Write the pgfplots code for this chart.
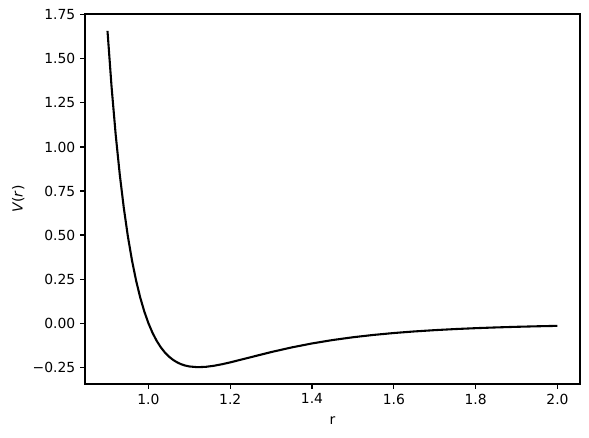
\documentclass[border=0pt]{standalone}
\usepackage{fontspec}
\setmainfont{DejaVu Sans}
\usepackage{pgfplots}
\pgfplotsset{compat=1.18}
\begin{document}
\begin{tikzpicture}
\useasboundingbox (-61.2pt,-38.2pt) rectangle (362.9pt,276.5pt);
\begin{axis}[
  at={(0,0)}, anchor=south west,
  scale only axis,
  width=356.4pt, height=266.4pt,
  xmin=0.845, xmax=2.055,
  ymin=-0.3454, ymax=1.7545,
  xtick={1.0,1.2,1.4,1.6,1.8,2.0},
  xticklabels={1.0,1.2,1.4,1.6,1.8,2.0},
  ytick={-0.25,0,0.25,0.5,0.75,1.0,1.25,1.5,1.75},
  yticklabels={−0.25,0.00,0.25,0.50,0.75,1.00,1.25,1.50,1.75},
  tick align=outside,
  major tick length=3.5pt,
  tick style={black, line width=0.8pt},
  axis line style={line width=0.8pt},
  xtick pos=bottom, ytick pos=left,
  ticklabel style={font=\fontsize{10}{12}\selectfont},
  label style={font=\fontsize{10}{12}\selectfont},
  xlabel={r},
  xlabel style={yshift=-2pt},
  ylabel={\textit{V}(\textit{r})},
  ylabel style={yshift=-1pt},
  clip=false,
]
\addplot[black, line width=1.5pt, line join=round] coordinates {
(0.90,1.65903)(0.91,1.34004)(0.92,1.07066)(0.93,0.84332)(0.94,0.65164)
(0.95,0.49023)(0.96,0.35456)(0.97,0.24073)(0.98,0.14548)(0.99,0.06602)
(1.00,0.0)(1.01,-0.05460)(1.02,-0.09948)(1.03,-0.13611)(1.04,-0.16572)
(1.05,-0.18938)(1.06,-0.20799)(1.07,-0.22233)(1.08,-0.23306)(1.09,-0.24073)
(1.10,-0.24584)(1.12,-0.24996)(1.14,-0.24803)(1.16,-0.24198)(1.18,-0.23321)
(1.20,-0.22274)(1.25,-0.19343)(1.30,-0.16425)(1.35,-0.13791)(1.40,-0.11517)
(1.45,-0.09602)(1.50,-0.08008)(1.55,-0.06691)(1.60,-0.05605)(1.65,-0.04710)
(1.70,-0.03971)(1.75,-0.03360)(1.80,-0.02854)(1.85,-0.02432)(1.90,-0.02080)
(1.95,-0.01786)(2.00,-0.01538)
};
\end{axis}
\end{tikzpicture}
\end{document}
